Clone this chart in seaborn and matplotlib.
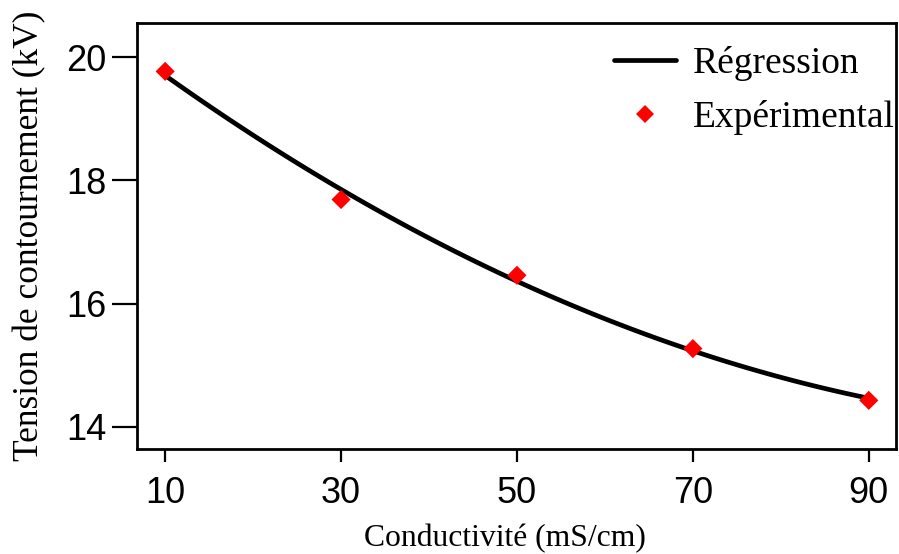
import numpy as np
import pandas as pd
import matplotlib
matplotlib.use("Agg")
import matplotlib.pyplot as plt
import seaborn as sns
from matplotlib.lines import Line2D

# Measured flashover voltage versus conductivity
conductivite = [10, 30, 50, 70, 90]
tension = [19.77, 17.69, 16.46, 15.27, 14.43]
x_ticks = [10, 30, 50, 70, 90]
y_ticks = [14, 16, 18, 20]

df = pd.DataFrame({"conductivite": conductivite, "tension": tension})

sns.set_theme(style="ticks")
plt.rcParams["font.family"] = ["Liberation Serif", "DejaVu Serif"]
plt.rcParams["text.color"] = "black"

fig = plt.figure(figsize=(8.99, 5.54), dpi=100)
ax = fig.add_axes([0.1524, 0.1895, 0.8443, 0.7695])

# Second-order regression curve fitted to the measurements
sns.regplot(data=df, x="conductivite", y="tension", order=2, ci=None,
            scatter=False, ax=ax,
            line_kws=dict(color="black", lw=3.4, solid_capstyle="butt"))

sns.scatterplot(data=df, x="conductivite", y="tension", ax=ax,
                marker="D", s=95, color="red", edgecolor="none", zorder=3)

ax.set_xlim(6.8, 93.1)
ax.set_ylim(13.64, 20.56)
ax.set_xticks(x_ticks)
ax.set_yticks(y_ticks)

for lab in ax.get_xticklabels() + ax.get_yticklabels():
    lab.set_family(["Liberation Sans", "DejaVu Sans"])
    lab.set_fontsize(26)
    lab.set_color("black")

ax.tick_params(axis="y", length=18, width=1.6, pad=4, color="black")
ax.tick_params(axis="x", length=9.5, width=1.6, pad=10, color="black")

for sp in ax.spines.values():
    sp.set_linewidth(2.0)
    sp.set_color("black")
    sp.set_visible(True)

ax.set_xlabel("Conductivité (mS/cm)", fontsize=22.8, color="black", labelpad=10)
ax.xaxis.set_label_coords(0.485, -0.175)
ax.set_ylabel("Tension de contournement (kV)", fontsize=25.5, color="black", labelpad=14)
ax.grid(False)
ax.set_facecolor("white")

handles = [
    Line2D([], [], color="black", lw=3.4),
    Line2D([], [], color="red", marker="D", ls="none", markersize=9, markeredgewidth=0),
]
leg = ax.legend(handles, ["Régression", "Expérimental"], loc="upper right",
                bbox_to_anchor=(1.018, 0.98), frameon=False, fontsize=27,
                handlelength=1.65, handletextpad=0.45, labelspacing=0.5,
                borderaxespad=0.0)
for t in leg.get_texts():
    t.set_color("black")

fig.savefig("out.png", dpi=100, facecolor="white")
